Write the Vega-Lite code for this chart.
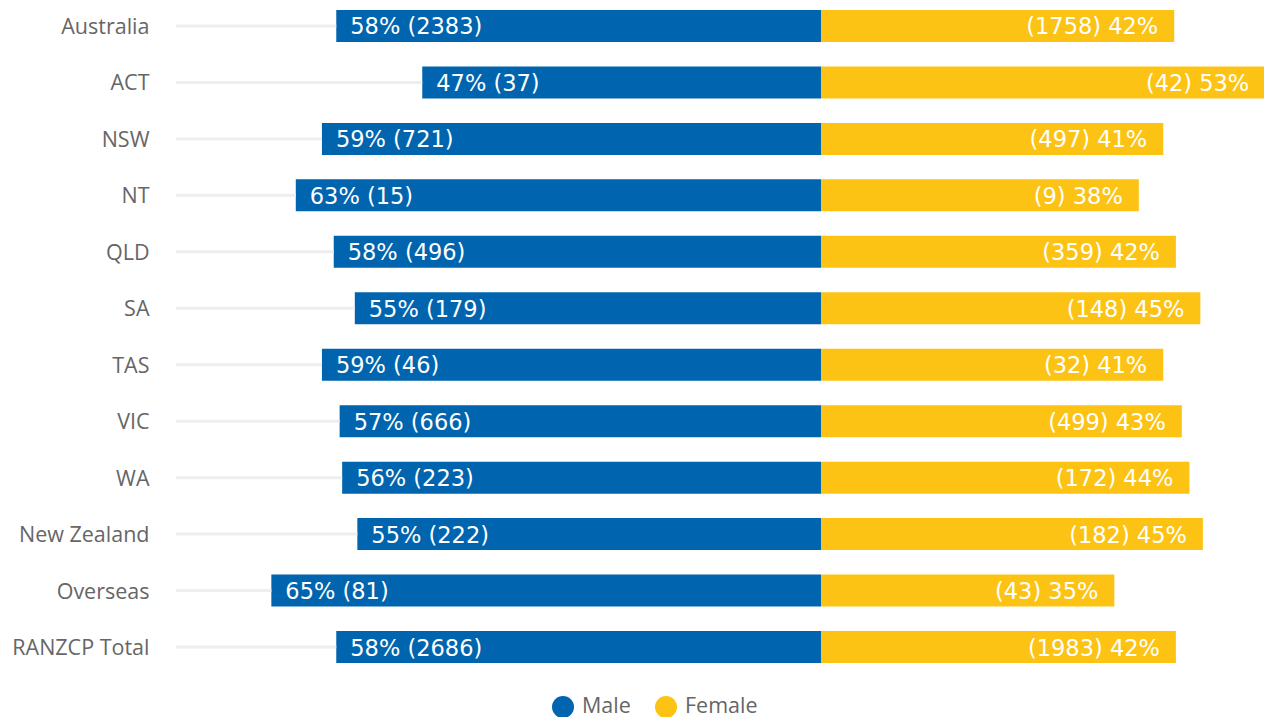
{
  "$schema": "https://vega.github.io/schema/vega-lite/v6.json",
  "width": 1088,
  "height": 673,
  "padding": 0,
  "background": "white",
  "config": {"view": {"stroke": null}, "font": "Open Sans"},
  "data": {
    "values": [
      {"region": "Australia", "sex": "Male", "value": -57.5, "label": "58% (2383)"},
      {"region": "Australia", "sex": "Female", "value": 41.9, "label": "(1758) 42%"},
      {"region": "ACT", "sex": "Male", "value": -47.3, "label": "47% (37)"},
      {"region": "ACT", "sex": "Female", "value": 52.7, "label": "(42) 53%"},
      {"region": "NSW", "sex": "Male", "value": -59.2, "label": "59% (721)"},
      {"region": "NSW", "sex": "Female", "value": 40.6, "label": "(497) 41%"},
      {"region": "NT", "sex": "Male", "value": -62.3, "label": "63% (15)"},
      {"region": "NT", "sex": "Female", "value": 37.7, "label": "(9) 38%"},
      {"region": "QLD", "sex": "Male", "value": -57.8, "label": "58% (496)"},
      {"region": "QLD", "sex": "Female", "value": 42.1, "label": "(359) 42%"},
      {"region": "SA", "sex": "Male", "value": -55.3, "label": "55% (179)"},
      {"region": "SA", "sex": "Female", "value": 45.0, "label": "(148) 45%"},
      {"region": "TAS", "sex": "Male", "value": -59.2, "label": "59% (46)"},
      {"region": "TAS", "sex": "Female", "value": 40.6, "label": "(32) 41%"},
      {"region": "VIC", "sex": "Male", "value": -57.1, "label": "57% (666)"},
      {"region": "VIC", "sex": "Female", "value": 42.8, "label": "(499) 43%"},
      {"region": "WA", "sex": "Male", "value": -56.8, "label": "56% (223)"},
      {"region": "WA", "sex": "Female", "value": 43.7, "label": "(172) 44%"},
      {"region": "New Zealand", "sex": "Male", "value": -55.0, "label": "55% (222)"},
      {"region": "New Zealand", "sex": "Female", "value": 45.3, "label": "(182) 45%"},
      {"region": "Overseas", "sex": "Male", "value": -65.2, "label": "65% (81)"},
      {"region": "Overseas", "sex": "Female", "value": 34.8, "label": "(43) 35%"},
      {"region": "RANZCP Total", "sex": "Male", "value": -57.5, "label": "58% (2686)"},
      {"region": "RANZCP Total", "sex": "Female", "value": 42.1, "label": "(1983) 42%"}
    ]
  },
  "encoding": {
    "y": {
      "field": "region",
      "type": "nominal",
      "sort": null,
      "scale": {"paddingInner": 0.433, "paddingOuter": 0.177},
      "axis": {
        "title": null,
        "domain": false,
        "ticks": false,
        "labelFont": "Open Sans",
        "labelFontSize": 21.5,
        "labelColor": "#666666",
        "labelPadding": 27,
        "labelOffset": 2,
        "minExtent": 176,
        "maxExtent": 176
      }
    }
  },
  "layer": [
    {
      "mark": {"type": "bar", "clip": true},
      "encoding": {
        "x": {
          "field": "value",
          "type": "quantitative",
          "scale": {"domain": [-76.51, 52.55], "nice": false, "zero": false},
          "axis": null
        },
        "color": {
          "field": "sex",
          "type": "nominal",
          "scale": {"domain": ["Male", "Female"], "range": ["#0065AE", "#FDC314"]},
          "legend": {
            "title": null,
            "orient": "none",
            "legendX": 376,
            "legendY": 696,
            "direction": "horizontal",
            "symbolType": "circle",
            "symbolSize": 484,
            "symbolStrokeWidth": 0,
            "symbolOpacity": 1,
            "labelFont": "Open Sans",
            "labelFontSize": 21.5,
            "labelColor": "#666666",
            "labelOffset": 8,
            "columnPadding": 24
          }
        }
      }
    },
    {
      "transform": [{"filter": "datum.sex === 'Male'"}],
      "mark": {"type": "rule", "color": "#eeeeee", "strokeWidth": 3},
      "encoding": {
        "x": {"field": "value", "type": "quantitative"},
        "x2": {"value": 0}
      }
    },
    {
      "transform": [{"filter": "datum.sex === 'Male'"}],
      "mark": {"type": "text", "align": "left", "dx": 14, "dy": 1.5, "color": "white", "font": "DejaVu Sans", "fontSize": 22.5, "baseline": "middle"},
      "encoding": {
        "x": {"field": "value", "type": "quantitative"},
        "text": {"field": "label"}
      }
    },
    {
      "transform": [{"filter": "datum.sex === 'Female'"}],
      "mark": {"type": "text", "align": "right", "dx": -16, "dy": 1.5, "color": "white", "font": "DejaVu Sans", "fontSize": 22.5, "baseline": "middle"},
      "encoding": {
        "x": {"field": "value", "type": "quantitative"},
        "text": {"field": "label"}
      }
    }
  ]
}
